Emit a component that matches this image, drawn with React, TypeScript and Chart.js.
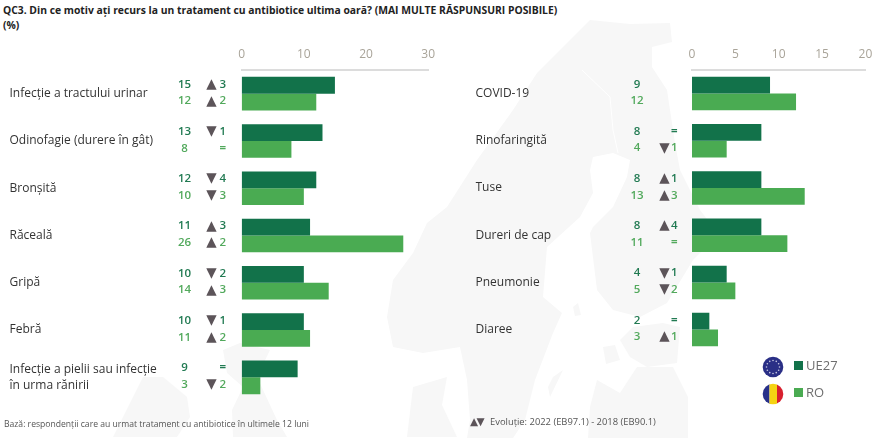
import React, { useEffect, useRef } from "react";
import { Chart, registerables } from "chart.js";

Chart.register(...registerables);

const FONT = '"Open Sans", sans-serif';
const DARK = "#12724a";
const LIGHT = "#4aab52";
const DARK_TEXT = "#217a52";
const LIGHT_TEXT = "#52a95c";
const TRI = "#5c5459";

const leftCategories: (string | string[])[] = [
  "Infecție a tractului urinar",
  "Odinofagie (durere în gât)",
  "Bronșită",
  "Răceală",
  "Gripă",
  "Febră",
  ["Infecție a pielii sau infecție", "în urma rănirii"],
];
const leftUE = [15, 13, 12, 11, 10, 10, 9];
const leftRO = [12, 8, 10, 26, 14, 11, 3];
const leftUEDelta: (number | null)[] = [3, -1, -4, 3, -2, -1, 0];
const leftRODelta: (number | null)[] = [2, 0, -3, 2, 3, 2, -2];
const leftTicks = { max: 30, step: 10 };

const rightCategories: string[] = ["COVID-19", "Rinofaringită", "Tuse", "Dureri de cap", "Pneumonie", "Diaree"];
const rightUE = [9, 8, 8, 8, 4, 2];
const rightRO = [12, 4, 13, 11, 5, 3];
const rightUEDelta: (number | null)[] = [null, 0, 1, 4, -1, 0];
const rightRODelta: (number | null)[] = [null, -1, 3, 0, -2, 1];
const rightTicks = { max: 20, step: 5 };

const seriesNames = ["UE27", "RO"];
const titleLines = ["QC3. Din ce motiv ați recurs la un tratament cu antibiotice ultima oară? (MAI MULTE RĂSPUNSURI POSIBILE)", "(%)"];
const footLeft = "Bază: respondenții care au urmat tratament cu antibiotice în ultimele 12 luni";
const footTriangles = "▲▼";
const footRight = "Evoluție: 2022 (EB97.1) - 2018 (EB90.1)";

type PanelProps = {
  categories: (string | string[])[];
  ue: number[];
  ro: number[];
  ueDelta: (number | null)[];
  roDelta: (number | null)[];
  max: number;
  step: number;
  left: number;
  width: number;
  padLeft: number;
  padRight: number;
  padBottom: number;
  axisWidth: number;
  valueX: number;
  triX: number;
  digitX: number;
};

function Panel(p: PanelProps) {
  const ref = useRef<HTMLCanvasElement>(null);
  useEffect(() => {
    const labelsPlugin = {
      id: "rowLabels",
      afterDatasetsDraw(chart: any) {
        const ctx = chart.ctx as CanvasRenderingContext2D;
        ctx.save();
        ctx.textBaseline = "middle";
        const rows: [number, number[], (number | null)[], string][] = [
          [0, p.ue, p.ueDelta, DARK_TEXT],
          [1, p.ro, p.roDelta, LIGHT_TEXT],
        ];
        for (const [ds, vals, deltas, color] of rows) {
          const meta = chart.getDatasetMeta(ds);
          vals.forEach((v, i) => {
            const y = meta.data[i].y - 1;
            ctx.font = `600 11.5px ${FONT}`;
            ctx.fillStyle = color;
            ctx.textAlign = "center";
            ctx.fillText(String(v), p.valueX, y);
            const d = deltas[i];
            if (d === null) return;
            ctx.textAlign = "right";
            if (d === 0) {
              ctx.font = `700 11.5px ${FONT}`;
              ctx.fillText("=", p.digitX, y);
            } else {
              ctx.fillText(String(Math.abs(d)), p.digitX, y);
              ctx.font = `13.5px "DejaVu Sans", sans-serif`;
              ctx.fillStyle = TRI;
              ctx.textAlign = "center";
              ctx.fillText(d > 0 ? "▲" : "▼", p.triX, y);
            }
          });
        }
        ctx.restore();
      },
    };
    const chart = new Chart(ref.current as HTMLCanvasElement, {
      type: "bar",
      data: {
        labels: p.categories as any,
        datasets: [
          { label: seriesNames[0], data: p.ue, backgroundColor: DARK },
          { label: seriesNames[1], data: p.ro, backgroundColor: LIGHT },
        ],
      },
      options: {
        indexAxis: "y",
        responsive: false,
        animation: false,
        layout: { autoPadding: false, padding: { left: p.padLeft, right: p.padRight, top: 0, bottom: p.padBottom } },
        datasets: { bar: { categoryPercentage: 0.71, barPercentage: 1 } },
        plugins: { legend: { display: false }, tooltip: { enabled: false } },
        scales: {
          x: {
            position: "top",
            min: 0,
            max: p.max,
            grid: { display: false, drawTicks: false, tickLength: 0 },
            border: { display: true, color: "#dcdcdc", width: 2 },
            afterFit: (s: any) => { s.height = 70; },
            ticks: {
              stepSize: p.step,
              padding: 8,
              maxRotation: 0,
              color: "#a9a499",
              font: { family: FONT, size: 12 },
            },
          },
          y: {
            position: "left",
            grid: { display: false },
            border: { display: false },
            afterFit: (s: any) => { s.width = p.axisWidth; },
            ticks: {
              crossAlign: "far",
              autoSkip: false,
              color: "#333333",
              font: { family: FONT, size: 12, lineHeight: 1.3 },
            },
          },
        },
      },
      plugins: [labelsPlugin],
    } as any);
    return () => chart.destroy();
  }, []);
  return (
    <canvas
      ref={ref}
      width={p.width}
      height={438}
      style={{ position: "absolute", left: p.left, top: 0, width: p.width, height: 438 }}
    />
  );
}

function MapBackground() {
  return (
    <svg width={882} height={438} style={{ position: "absolute", left: 0, top: 0 }}>
      <g fill="#f7f7f7">
        <path d="M590,20 L630,24 L670,23 L672,42 L652,47 L652,67 L667,90 L670,110 L675,143 L680,170 L700,210 L710,223 L710,243 L693,260 L667,303 L640,317 L613,310 L597,290 L590,233 L593,227 L613,207 L627,177 L630,160 L613,153 L593,157 L590,170 L593,193 L580,217 L547,247 L543,297 L562,313 L553,333 L535,380 L525,420 L513,438 L467,438 L470,420 L467,380 L460,347 L423,353 L393,347 L387,317 L393,280 L413,253 L427,223 L447,207 L477,160 L513,110 L537,73 L560,50 Z" />
        <path d="M620,340 L633,327 L663,323 L680,327 L677,363 L647,367 L630,357 Z" />
        <path d="M597,380 L620,393 L637,367 L673,367 L688,397 L688,438 L588,438 L590,407 Z" />
        <path d="M413,387 L447,377 L442,405 L457,437 L407,437 Z" />
        <path d="M550,397 L563,370 L553,377 L548,387 Z" />
        <path d="M603,347 L615,345 L620,360 L606,364 Z" />
        <path d="M573,307 L578,303 L581,315 L575,316 Z" />
        <path d="M113,437 L133,397 L143,377 L163,377 L187,397 L190,417 L177,437 Z" />
        <path d="M223,350 L240,343 L270,350 L257,377 L277,420 L287,437 L233,437 L232,410 L243,387 L227,373 Z" />
      </g>
      <path d="M582,70 L610,97 L613,130 L618,153" fill="none" stroke="#ffffff" strokeWidth={1} />
    </svg>
  );
}

function EUFlag() {
  const stars = [0, 1, 2, 3, 4, 5, 6, 7, 8, 9, 10, 11];
  return (
    <svg width={22} height={22} style={{ position: "absolute", left: 762.3, top: 355.7 }}>
      <circle cx={11} cy={11} r={10.3} fill="#2a2f86" />
      {stars.map((k) => (
        <circle
          key={k}
          cx={11 + 6.5 * Math.cos((k * Math.PI) / 6)}
          cy={11 + 6.5 * Math.sin((k * Math.PI) / 6)}
          r={0.8}
          fill="#c8c8e0"
        />
      ))}
    </svg>
  );
}

function ROFlag() {
  return (
    <svg width={22} height={22} style={{ position: "absolute", left: 762.3, top: 383.3 }}>
      <defs>
        <clipPath id="roClip">
          <circle cx={11} cy={11} r={10.3} />
        </clipPath>
      </defs>
      <g clipPath="url(#roClip)">
        <rect x={0} y={0} width={7.5} height={22} fill="#27308a" />
        <rect x={7.5} y={0} width={7.5} height={22} fill="#f5d312" />
        <rect x={15} y={0} width={7} height={22} fill="#d8202f" />
      </g>
    </svg>
  );
}

const legendText: React.CSSProperties = {
  position: "absolute",
  left: 806,
  fontFamily: FONT,
  fontSize: 13,
  color: "#6e6e6e",
  lineHeight: "16px",
};

export default function App() {
  return (
    <div style={{ position: "absolute", left: 0, top: 0, width: 882, height: 438, background: "#fff", overflow: "hidden" }}>
      <MapBackground />
      <div style={{ position: "absolute", left: 3, top: 3, fontFamily: FONT, fontSize: 10.35, fontWeight: 700, color: "#222", lineHeight: "15px", whiteSpace: "pre" }}>
        {titleLines.join("\n")}
      </div>
      <Panel categories={leftCategories} ue={leftUE} ro={leftRO} ueDelta={leftUEDelta} roDelta={leftRODelta}
        max={leftTicks.max} step={leftTicks.step} left={0} width={443} padLeft={9.5} padRight={14.4} padBottom={37} axisWidth={232.2}
        valueX={184.5} triX={211.5} digitX={226} />
      <Panel categories={rightCategories} ue={rightUE} ro={rightRO} ueDelta={rightUEDelta} roDelta={rightRODelta}
        max={rightTicks.max} step={rightTicks.step} left={440} width={442} padLeft={35.5} padRight={16.6} padBottom={84.8} axisWidth={216.5}
        valueX={197} triX={224.5} digitX={237.5} />
      <div style={{ position: "absolute", left: 4, top: 417, fontFamily: FONT, fontSize: 8.6, color: "#555", lineHeight: "14px", whiteSpace: "pre" }}>{footLeft}</div>
      <div style={{ position: "absolute", left: 470, top: 414, fontFamily: FONT, fontSize: 9.4, color: "#555", lineHeight: "14px", whiteSpace: "pre" }}>
        <span style={{ display: "inline-block", width: 20, fontSize: 10.5, fontFamily: '"DejaVu Sans", sans-serif', color: TRI, letterSpacing: -1.5 }}>{footTriangles}</span>
        {footRight}
      </div>
      <EUFlag />
      <ROFlag />
      <div style={{ position: "absolute", left: 794, top: 361, width: 9, height: 8.5, background: DARK }} />
      <div style={{ position: "absolute", left: 794, top: 388, width: 9, height: 9, background: LIGHT }} />
      <div style={{ ...legendText, top: 357 }}>{seriesNames[0]}</div>
      <div style={{ ...legendText, top: 384 }}>{seriesNames[1]}</div>
    </div>
  );
}
